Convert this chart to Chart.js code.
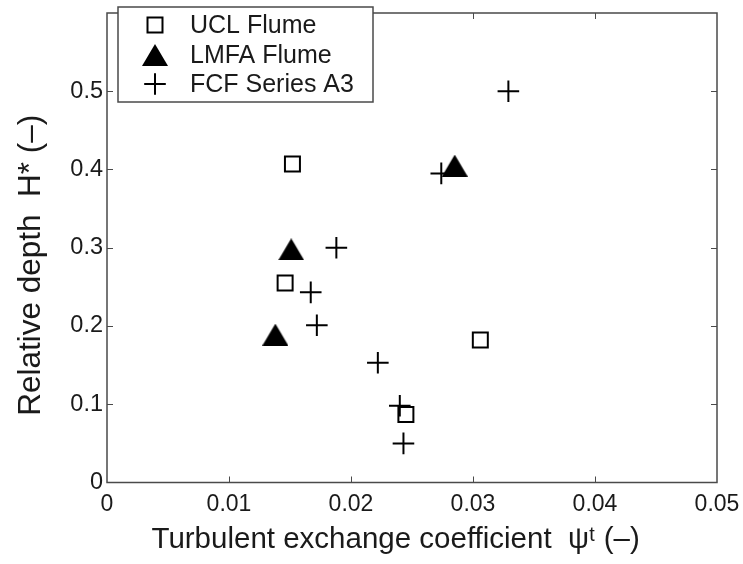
<!DOCTYPE html>
<html>
<head>
<meta charset="utf-8">
<title>Relative depth vs turbulent exchange coefficient</title>
<script src="https://cdn.jsdelivr.net/npm/chart.js@4.4.1/dist/chart.umd.min.js"></script>
<style>
  html, body { margin: 0; padding: 0; background: #fff; }
  #wrap { width: 743px; height: 564px; }
</style>
</head>
<body>
<div id="wrap"><canvas id="plot" width="743" height="564"></canvas></div>
<script>
/* scatter of H* against psi^t for three data sets, MATLAB-like boxed axes */
var X_TICKS = [0, 0.01, 0.02, 0.03, 0.04, 0.05];
var Y_TICKS = [0, 0.1, 0.2, 0.3, 0.4, 0.5];
var X_LABELS = ['0', '0.01', '0.02', '0.03', '0.04', '0.05'];
var Y_LABELS = ['0', '0.1', '0.2', '0.3', '0.4', '0.5'];

var UCL_X = [0.0152, 0.0146, 0.0306, 0.0245];
var UCL_Y = [0.407, 0.255, 0.182, 0.087];
var LMFA_X = [0.0151, 0.0138, 0.0285];
var LMFA_Y = [0.298, 0.189, 0.405];
var FCF_X = [0.0329, 0.0274, 0.0188, 0.0167, 0.0172, 0.0222, 0.0240, 0.0243];
var FCF_Y = [0.500, 0.395, 0.300, 0.243, 0.201, 0.153, 0.098, 0.050];

var FONT = '"Liberation Sans", Arial, Helvetica, sans-serif';
var AXIS = '#4a4a4a';
var INK = '#1a1a1a';

function pts(xs, ys) { return xs.map(function (x, i) { return { x: x, y: ys[i] }; }); }

/* filled triangle, centred on its bounding box like MATLAB's '^' marker */
function triangleImg(w, h) {
  var c = document.createElement('canvas');
  c.width = w; c.height = h;
  var g = c.getContext('2d');
  g.fillStyle = '#000';
  g.beginPath();
  g.moveTo(w / 2, 0); g.lineTo(w, h); g.lineTo(0, h); g.closePath();
  g.fill();
  return c;
}
var TRI = triangleImg(26, 22);

/* box, inward ticks and in-axes legend */
var matlabAxes = {
  id: 'matlabAxes',
  afterDatasetsDraw: function (chart) {
    var ctx = chart.ctx, a = chart.chartArea, sx = chart.scales.x, sy = chart.scales.y;
    var tl = 6;
    ctx.save();
    ctx.strokeStyle = AXIS;
    ctx.lineWidth = 1.5;
    ctx.strokeRect(a.left, a.top, a.right - a.left, a.bottom - a.top);
    ctx.lineWidth = 1;
    ctx.beginPath();
    X_TICKS.forEach(function (v) {
      var px = Math.round(sx.getPixelForValue(v)) + 0.5;
      if (px <= a.left + 1 || px >= a.right - 1) { return; }
      ctx.moveTo(px, a.bottom); ctx.lineTo(px, a.bottom - tl);
      ctx.moveTo(px, a.top); ctx.lineTo(px, a.top + tl);
    });
    Y_TICKS.forEach(function (v) {
      var py = Math.round(sy.getPixelForValue(v)) + 0.5;
      if (py >= a.bottom - 1 || py <= a.top + 1) { return; }
      ctx.moveTo(a.left, py); ctx.lineTo(a.left + tl, py);
      ctx.moveTo(a.right, py); ctx.lineTo(a.right - tl, py);
    });
    ctx.stroke();

    /* legend */
    var bx = 118, by = 7, bw = 255, bh = 95;
    ctx.fillStyle = '#fff';
    ctx.fillRect(bx, by, bw, bh);
    ctx.strokeStyle = AXIS;
    ctx.lineWidth = 1.5;
    ctx.strokeRect(bx, by, bw, bh);
    var rows = [25, 55, 84];
    ctx.font = '25px ' + FONT;
    ctx.textBaseline = 'middle';
    ctx.textAlign = 'left';
    chart.data.datasets.forEach(function (ds, i) {
      ctx.strokeStyle = ds.borderColor;
      ctx.fillStyle = ds.backgroundColor;
      ctx.lineWidth = ds.borderWidth;
      Chart.helpers.drawPoint(ctx, { pointStyle: ds.pointStyle, radius: ds.pointRadius, borderWidth: ds.borderWidth, rotation: 0 }, 155, rows[i]);
      ctx.fillStyle = INK;
      ctx.fillText(ds.label, 190, rows[i] + 1);
    });
    ctx.restore();
  }
};

function start() {
  if (typeof Chart === 'undefined') { return setTimeout(start, 100); }
  Chart.defaults.font.family = FONT;
  Chart.defaults.color = INK;

  new Chart(document.getElementById('plot'), {
    type: 'scatter',
    data: {
      datasets: [
        { label: 'UCL Flume', data: pts(UCL_X, UCL_Y), pointStyle: 'rect', pointRadius: 10.6, borderColor: '#000', backgroundColor: 'rgba(0,0,0,0)', borderWidth: 2 },
        { label: 'LMFA Flume', data: pts(LMFA_X, LMFA_Y), pointStyle: TRI, pointRadius: 13, borderColor: '#000', backgroundColor: '#000', borderWidth: 0 },
        { label: 'FCF Series A3', data: pts(FCF_X, FCF_Y), pointStyle: 'cross', pointRadius: 10.8, borderColor: '#000', backgroundColor: '#000', borderWidth: 2 }
      ]
    },
    plugins: [matlabAxes],
    options: {
      responsive: false,
      animation: false,
      events: [],
      layout: { padding: { top: 3, right: 26, bottom: 0, left: 0 } },
      plugins: { legend: { display: false }, tooltip: { enabled: false } },
      scales: {
        x: {
          type: 'linear', min: 0, max: 0.05,
          grid: { display: false, drawTicks: false },
          border: { display: false },
          afterBuildTicks: function (s) { s.ticks = X_TICKS.map(function (v) { return { value: v }; }); },
          ticks: {
            padding: 8, maxRotation: 0, autoSkip: false, color: INK,
            font: { size: 23 },
            callback: function (v) { return X_LABELS[X_TICKS.indexOf(v)]; }
          },
          title: { display: true, text: 'Turbulent exchange coefficient  ψᵗ (–)    ', color: INK, font: { size: 29.5 }, padding: { top: 0, bottom: 6 } },
          afterFit: function (s) { s.height = 81.5; s.paddingLeft = 0; s.paddingRight = 0; s.paddingTop = 0; s.paddingBottom = 0; }
        },
        y: {
          type: 'linear', min: 0, max: 0.6,
          grid: { display: false, drawTicks: false },
          border: { display: false },
          afterBuildTicks: function (s) { s.ticks = Y_TICKS.map(function (v) { return { value: v }; }); },
          ticks: {
            padding: 4, color: INK,
            font: { size: 23.5 },
            callback: function (v) { return Y_LABELS[Y_TICKS.indexOf(v)]; }
          },
          title: { display: true, text: 'Relative depth  H* (–)    ', color: INK, font: { size: 31.5 }, padding: { top: 12, bottom: 0 } },
          afterFit: function (s) { s.width = 107; s.paddingLeft = 0; s.paddingRight = 0; s.paddingTop = 0; s.paddingBottom = 0; }
        }
      }
    }
  });
}

start();
</script>
</body>
</html>
